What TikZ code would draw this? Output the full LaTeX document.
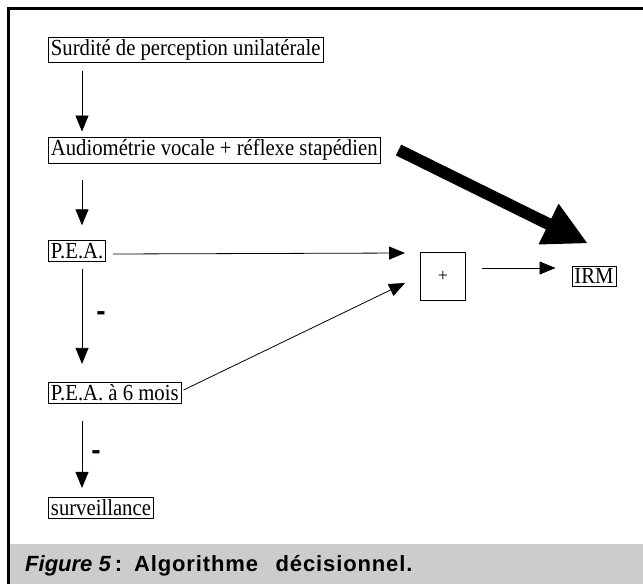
\documentclass[tikz,border=0pt]{standalone}
\usepackage{fontspec}
\setmainfont{Liberation Serif}
\newfontfamily\boxfont[FakeStretch=0.9]{Liberation Serif}
\newfontfamily\capfont{Liberation Sans}
\newfontfamily\capwide[LetterSpace=4,WordSpace=2.5]{Liberation Sans}
\usetikzlibrary{arrows.meta}
\tikzset{
  box/.style={draw, line width=0.9pt, inner sep=2.5pt, anchor=west, font=\boxfont\fontsize{23}{26}\selectfont},
  arr/.style={line width=0.8pt, -{Triangle[length=16pt,width=13pt]}},
  minus/.style={font=\capfont\fontsize{28}{28}\selectfont\bfseries, inner sep=0pt},
  bigarr/.style={line width=12pt, -{Triangle[length=44pt,width=42pt]}}
}
\begin{document}
\begin{tikzpicture}[x=1pt,y=-1pt]
\useasboundingbox (0,0) rectangle (643,584);
\fill[white] (0,0) rectangle (643,584);
\fill[black!20] (8,544) rectangle (643,584);
\draw[line width=3pt] (8.5,584) -- (8.5,8.5) -- (643,8.5);

\node[box] (s) at (48,50) {Surdité de perception unilatérale};
\node[box] (a) at (48,150) {Audiométrie vocale + réflexe stapédien};
\node[box] (p) at (48,251) {P.E.A.};
\node[box] (p6) at (48,393) {P.E.A. à 6 mois};
\node[box] (sv) at (48,508) {surveillance};
\node[draw, line width=0.9pt, minimum width=45pt, minimum height=48pt, font=\fontsize{18}{18}\selectfont] (plus) at (443,276) {+};
\node[box, anchor=center] (irm) at (594,276) {IRM};

\draw[arr] ([shift={(34,8)}]s.south west) -- ([shift={(34,-5)}]a.north west);
\draw[arr] ([shift={(34,17)}]a.south west) -- ([shift={(34,-15)}]p.north west);
\draw[arr] ([shift={(34,7)}]p.south west) -- node[minus, right=14pt] {-} ([shift={(34,-18)}]p6.north west);
\draw[arr] ([shift={(34,17)}]p6.south west) -- node[minus, right=9pt] {-} ([shift={(34,-9)}]sv.north west);
\draw[arr] ([shift={(7,3)}]p.east) -- ([shift={(-15,-23)}]plus.west);
\draw[arr] ([shift={(2,-3)}]p6.east) -- ([shift={(-15,7)}]plus.west);
\draw[arr] ([shift={(16,-8)}]plus.east) -- ([shift={(-16,-8)}]irm.west);
\draw[bigarr] ([shift={(18,0)}]a.east) -- ([shift={(-6,-22)}]irm.north);

\node[anchor=base west, inner sep=0pt, font=\fontsize{22}{24}\selectfont\bfseries] (cap) at (25,571) {{\capfont\itshape Figure 5}\hspace{4pt}{\capfont:}\hspace{12pt}{\capwide Algorithme décisionnel.}};
\end{tikzpicture}
\end{document}
